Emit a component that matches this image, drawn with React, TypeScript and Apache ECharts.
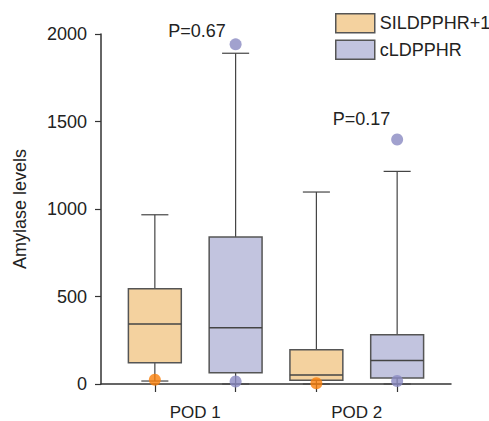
import React, { useEffect, useRef } from "react";
import * as echarts from "echarts";

const groupNames = ["SILDPPHR+1", "cLDPPHR"];
const periodLabels = ["POD 1", "POD 2"];
const yTicks = [0, 500, 1000, 1500, 2000];
// [position, lowWhisker, Q1, median, Q3, highWhisker]
const sildBoxes = [
  [1, 17, 122, 343, 544, 967],
  [3, 0, 21, 51, 196, 1097],
];
const cldBoxes = [
  [2, 0, 65, 322, 840, 1890],
  [4, 0, 34, 135, 281, 1215],
];
const sildOutliers = [
  [1, 24],
  [3, 4],
];
const cldOutliers = [
  [2, 1941],
  [2, 14],
  [4, 1397],
  [4, 17],
];
const pValues = ["P=0.67", "P=0.17"];

const FONT = "'Liberation Sans', Arial, Helvetica, sans-serif";
const FILL_A = "#F4D29F";
const FILL_B = "#C2C4DF";
const DOT_A = "#FA7F0A";
const DOT_B = "#8A89C2";
const EDGE = "#555555";

function makeRender(fill: string) {
  return (params: any, api: any) => {
    const x = api.value(0);
    const lo = api.coord([x, api.value(1)]);
    const q1 = api.coord([x, api.value(2)]);
    const md = api.coord([x, api.value(3)]);
    const q3 = api.coord([x, api.value(4)]);
    const hi = api.coord([x, api.value(5)]);
    const unit = api.size([1, 0])[0];
    const bw = unit * 0.655;
    const cw = unit * 0.335;
    const cx = q1[0];
    const line = { stroke: "#444", lineWidth: 1.2 };
    return {
      type: "group",
      children: [
        { type: "line", shape: { x1: cx, y1: hi[1], x2: cx, y2: q3[1] }, style: line },
        { type: "line", shape: { x1: cx, y1: q1[1], x2: cx, y2: lo[1] }, style: line },
        { type: "line", shape: { x1: cx - cw / 2, y1: hi[1], x2: cx + cw / 2, y2: hi[1] }, style: line },
        { type: "line", shape: { x1: cx - cw / 2, y1: lo[1], x2: cx + cw / 2, y2: lo[1] }, style: line },
        {
          type: "rect",
          shape: { x: cx - bw / 2, y: q3[1], width: bw, height: q1[1] - q3[1] },
          style: { fill, stroke: EDGE, lineWidth: 1.5 },
        },
        { type: "line", shape: { x1: cx - bw / 2, y1: md[1], x2: cx + bw / 2, y2: md[1] }, style: { stroke: "#444", lineWidth: 1.5 } },
      ],
    };
  };
}

export default function App() {
  const ref = useRef<HTMLDivElement>(null);
  useEffect(() => {
    if (!ref.current) return;
    const chart = echarts.init(ref.current, null, { renderer: "svg" });
    chart.setOption({
      animation: false,
      backgroundColor: "#ffffff",
      textStyle: { fontFamily: FONT },
      grid: { left: 101, right: 38, top: 34, bottom: 35.3 },
      legend: {
        orient: "vertical",
        left: 335,
        top: 13,
        padding: 0,
        itemWidth: 39,
        itemHeight: 19,
        itemGap: 6,
        textStyle: { fontSize: 18, color: "#222", fontFamily: FONT },
        data: [
          { name: groupNames[0], icon: "rect", itemStyle: { color: FILL_A, borderColor: EDGE, borderWidth: 1.5 } },
          { name: groupNames[1], icon: "rect", itemStyle: { color: FILL_B, borderColor: EDGE, borderWidth: 1.5 } },
        ],
      },
      xAxis: {
        type: "value",
        min: 1 / 3,
        max: 14 / 3,
        splitLine: { show: false },
        axisLine: { show: true, lineStyle: { color: "#333", width: 1.5 } },
        axisTick: { show: true, customValues: [1, 2, 3, 4], length: 8, lineStyle: { color: "#333", width: 1.2 } },
        axisLabel: {
          customValues: [1.5, 3.5],
          formatter: (v: number) => (v < 2.5 ? periodLabels[0] : periodLabels[1]),
          fontSize: 17,
          color: "#222",
          margin: 20,
          fontFamily: FONT,
        },
      },
      yAxis: {
        type: "value",
        min: 0,
        max: 2000,
        interval: 500,
        name: "Amylase levels",
        nameLocation: "middle",
        nameGap: 72,
        nameTextStyle: { fontSize: 18, color: "#222", fontFamily: FONT },
        splitLine: { show: false },
        axisLine: { show: true, lineStyle: { color: "#333", width: 1.5 } },
        axisTick: { show: true, length: 6, lineStyle: { color: "#333", width: 1.2 } },
        axisLabel: {
          fontSize: 18,
          color: "#222",
          margin: 14,
          fontFamily: FONT,
          customValues: yTicks,
          formatter: (v: number) => String(v),
        },
      },
      graphic: [
        { type: "text", x: 197, y: 31, style: { text: pValues[0], fontSize: 18, fill: "#222", font: `18px ${FONT}`, align: "center", verticalAlign: "middle" } },
        { type: "text", x: 361.5, y: 119, style: { text: pValues[1], fontSize: 18, fill: "#222", font: `18px ${FONT}`, align: "center", verticalAlign: "middle" } },
      ],
      series: [
        {
          name: groupNames[0],
          type: "custom",
          itemStyle: { color: FILL_A },
          renderItem: makeRender(FILL_A),
          encode: { x: 0, y: [1, 2, 3, 4, 5] },
          data: sildBoxes,
          z: 2,
        },
        {
          name: groupNames[1],
          type: "custom",
          itemStyle: { color: FILL_B },
          renderItem: makeRender(FILL_B),
          encode: { x: 0, y: [1, 2, 3, 4, 5] },
          data: cldBoxes,
          z: 2,
        },
        {
          name: groupNames[0],
          type: "scatter",
          symbolSize: 12,
          itemStyle: { color: DOT_A },
          data: sildOutliers,
          z: 5,
        },
        {
          name: groupNames[1],
          type: "scatter",
          symbolSize: 12,
          itemStyle: { color: DOT_B },
          data: cldOutliers,
          z: 5,
        },
      ],
    });
    return () => chart.dispose();
  }, []);
  return <div ref={ref} style={{ width: 489, height: 421, position: "absolute", left: 0, top: 0 }} />;
}
